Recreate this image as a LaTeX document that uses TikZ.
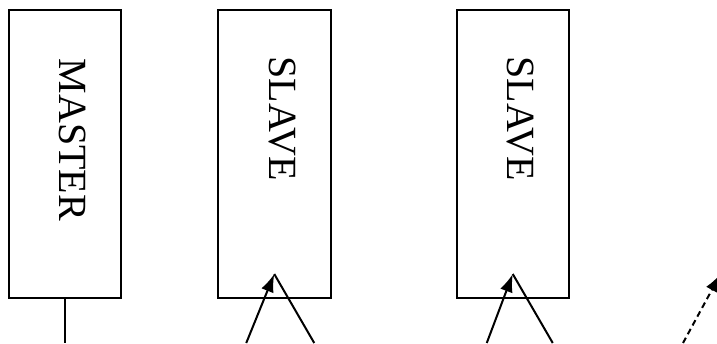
\documentclass[tikz,border=0pt]{standalone}
\usepackage{fontspec}
\setmainfont{Liberation Serif}
\usetikzlibrary{arrows.meta,positioning}

\begin{document}
\begin{tikzpicture}[x=1pt, y=1pt,
    unit/.style={draw, line width=2pt, minimum width=112.5pt, minimum height=287.5pt, inner sep=0pt},
    unitname/.style={rotate=-90, anchor=base west, inner sep=0pt, font=\fontsize{40}{44}\selectfont},
    link/.style={line width=2pt},
    feed/.style={line width=2pt, -{Latex[length=18pt,width=13pt]}}]

\useasboundingbox (0,0) rectangle (717,343);
\clip (0,0) rectangle (717,343);

\node[unit] (master) at (64.75,188.75) {};
\node[unit, right=95pt of master] (slaveA) {};
\node[unit, right=124pt of slaveA] (slaveB) {};

\node[unitname] (masterlbl) at ([xshift=-5pt, yshift=-49pt]master.north) {MASTER};
\node[unitname] (slaveAlbl) at ([xshift=-5pt, yshift=-47pt]slaveA.north) {SLAVE};
\node[unitname] (slaveBlbl) at ([xshift=-5pt, yshift=-47pt]slaveB.north) {SLAVE};

\coordinate (masterout) at ([yshift=-44pt]master.south);
\draw[link] (master.south) -- (masterout);

\coordinate[above=25pt of slaveA.south] (tipA);
\coordinate (inA) at ([shift={(-28pt,-69pt)}]tipA);
\coordinate (outA) at ([shift={(40pt,-69pt)}]tipA);
\draw[feed] (inA) -- (tipA);
\draw[link] (tipA) -- (outA);

\coordinate[above=25pt of slaveB.south] (tipB);
\coordinate (inB) at ([shift={(-26pt,-69pt)}]tipB);
\coordinate (outB) at ([shift={(40pt,-69pt)}]tipB);
\draw[feed] (inB) -- (tipB);
\draw[link] (tipB) -- (outB);

\coordinate (inC) at (683,0);
\coordinate (tipC) at (720.5,69);
\draw[feed, dash pattern=on 6pt off 4pt] (inC) -- (tipC);
\end{tikzpicture}
\end{document}
